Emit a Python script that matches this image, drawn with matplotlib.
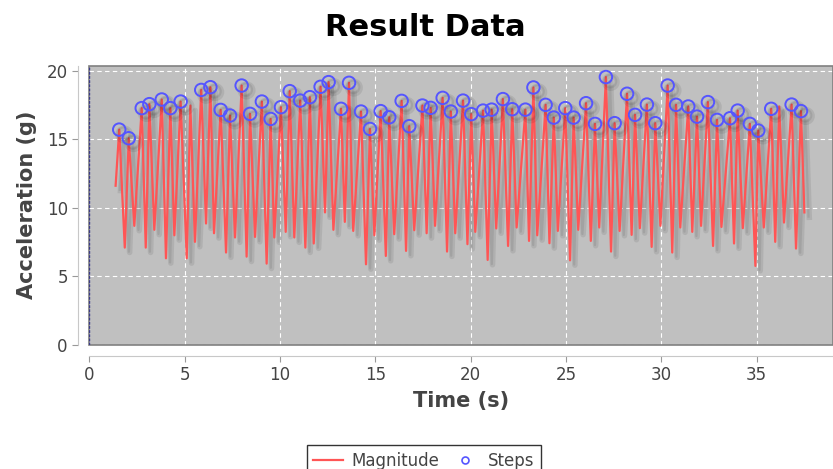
import matplotlib
matplotlib.use('Agg')
import matplotlib.pyplot as plt
import matplotlib.patheffects as pe
from matplotlib.patches import Rectangle
from matplotlib.lines import Line2D

# Magnitude signal (time in s, acceleration in g)
mag_t = [1.38, 1.57, 1.86, 2.07, 2.36, 2.75, 2.96, 3.15, 3.41, 3.80, 4.02, 4.25, 4.46, 4.79,
         5.11, 5.30, 5.54, 5.87, 6.12, 6.35, 6.54, 6.89, 7.17, 7.38, 7.64, 7.99, 8.25, 8.43,
         8.69, 9.05, 9.30, 9.51, 9.70, 10.05, 10.30, 10.51, 10.75, 11.06, 11.33, 11.57, 11.77,
         12.13, 12.36, 12.55, 12.80, 13.20, 13.40, 13.62, 13.84, 14.25, 14.51, 14.72, 14.95,
         15.28, 15.55, 15.73, 15.99, 16.38, 16.61, 16.78, 17.04, 17.47, 17.69, 17.90, 18.13,
         18.53, 18.76, 18.96, 19.19, 19.60, 19.83, 20.03, 20.24, 20.65, 20.89, 21.10, 21.34,
         21.69, 21.96, 22.18, 22.41, 22.87, 23.06, 23.29, 23.49, 23.93, 24.13, 24.36, 24.57,
         24.96, 25.21, 25.40, 25.64, 26.05, 26.30, 26.52, 26.74, 27.09, 27.36, 27.55, 27.81,
         28.20, 28.44, 28.62, 28.87, 29.24, 29.49, 29.68, 29.95, 30.33, 30.57, 30.77, 30.99,
         31.41, 31.62, 31.87, 32.08, 32.44, 32.71, 32.92, 33.15, 33.60, 33.81, 34.00, 34.27,
         34.64, 34.93, 35.08, 35.37, 35.76, 35.97, 36.18, 36.43, 36.83, 37.06, 37.32, 37.50]
mag_v = [11.6, 15.70, 7.08, 15.07, 8.67, 17.27, 7.08, 17.56, 8.38, 17.90, 6.30, 17.27, 7.98, 17.75,
         6.30, 17.46, 7.50, 18.60, 8.84, 18.80, 8.13, 17.14, 6.72, 16.73, 7.82, 18.92, 6.42, 16.85,
         7.86, 17.75, 5.91, 16.48, 7.82, 17.34, 8.23, 18.51, 7.82, 17.82, 7.08, 18.07, 7.38,
         18.83, 9.65, 19.17, 8.38, 17.22, 8.96, 19.12, 8.30, 17.02, 5.86, 15.75, 7.98,
         17.05, 6.47, 16.60, 8.06, 17.80, 6.84, 15.95, 8.35, 17.46, 8.13, 17.29, 8.67,
         18.02, 6.79, 17.02, 8.13, 17.82, 7.33, 16.83, 8.23, 17.09, 6.18, 17.16, 8.48,
         17.93, 7.20, 17.19, 8.55, 17.16, 7.57, 18.78, 7.98, 17.51, 7.40, 16.58, 8.30,
         17.27, 6.15, 16.58, 8.38, 17.63, 7.57, 16.12, 8.55, 19.54, 6.79, 16.17, 8.30,
         18.32, 8.01, 16.78, 8.50, 17.53, 7.13, 16.17, 8.67, 18.92, 6.72, 17.51, 8.55,
         17.39, 8.23, 16.65, 8.67, 17.71, 7.20, 16.41, 8.59, 16.53, 7.38, 17.09, 8.50,
         16.12, 5.74, 15.63, 8.55, 17.22, 7.50, 17.39, 8.91, 17.53, 7.01, 17.05, 9.65]

# Detected steps
step_t = [1.57, 2.07, 2.75, 3.15, 3.80, 4.25, 4.79, 5.87, 6.35, 6.89, 7.38, 7.99, 8.43, 9.05,
          9.51, 10.05, 10.51, 11.06, 11.57, 12.13, 12.55, 13.20, 13.62, 14.25, 14.72, 15.28,
          15.73, 16.38, 16.78, 17.47, 17.90, 18.53, 18.96, 19.60, 20.03, 20.65, 21.10, 21.69,
          22.18, 22.87, 23.29, 23.93, 24.36, 24.96, 25.40, 26.05, 26.52, 27.09, 27.55, 28.20,
          28.62, 29.24, 29.68, 30.33, 30.77, 31.41, 31.87, 32.44, 32.92, 33.60, 34.00, 34.64,
          35.08, 35.76, 36.83, 37.32]
step_v = [15.70, 15.07, 17.27, 17.56, 17.90, 17.27, 17.75, 18.60, 18.80, 17.14, 16.73, 18.92,
          16.85, 17.75, 16.48, 17.34, 18.51, 17.82, 18.07, 18.83, 19.17, 17.22, 19.12, 17.02,
          15.75, 17.05, 16.60, 17.80, 15.95, 17.46, 17.29, 18.02, 17.02, 17.82, 16.83, 17.09,
          17.16, 17.93, 17.19, 17.16, 18.78, 17.51, 16.58, 17.27, 16.58, 17.63, 16.12, 19.54,
          16.17, 18.32, 16.78, 17.53, 16.17, 18.92, 17.51, 17.39, 16.65, 17.71, 16.41, 16.53,
          17.09, 16.12, 15.63, 17.22, 17.53, 17.05]

x_ticks = [0, 5, 10, 15, 20, 25, 30, 35]
y_ticks = [0, 5, 10, 15, 20]

red = '#ff5555'
blue = '#5555ff'

fig = plt.figure(figsize=(8.33, 4.69), dpi=100)
ax = fig.add_axes([89.3 / 833, 1 - 344.5 / 469, 1 - 89.3 / 833, (344.5 - 65.7) / 469])
ax.set_facecolor('#c0c0c0')

# soft drop shadow like JFreeChart
shadow = [pe.SimpleLineShadow(offset=(3.5, -3.5), shadow_color='black', alpha=0.08, linewidth=4),
          pe.SimpleLineShadow(offset=(3, -3), shadow_color='black', alpha=0.08),
          pe.Normal()]
ax.plot(mag_t, mag_v, color=red, lw=1.6, path_effects=shadow, zorder=3)
ax.plot(step_t, step_v, 'o', ms=9, mfc='none', mec=blue, mew=1.4,
        path_effects=shadow, zorder=4)

ax.set_xlim(0, 39.0)
ax.set_ylim(0, 20.37)
ax.set_xticks(x_ticks)
ax.set_yticks(y_ticks)
ax.grid(True, color='white', ls=(0, (4, 3)), lw=0.8)
ax.set_axisbelow(True)

# plot border, axis lines offset outward
ax.add_patch(Rectangle((0, 0), 1, 1, transform=ax.transAxes, fill=False,
                       edgecolor='#808080', lw=1.2, zorder=5, clip_on=False))
ax.axvline(0, color='#3a3a8a', lw=1, ls=(0, (2, 1)), zorder=5)
for side in ['top', 'right']:
    ax.spines[side].set_visible(False)
for side in ['left', 'bottom']:
    ax.spines[side].set_position(('outward', 8))
    ax.spines[side].set_color('#c8c8c8')
ax.tick_params(colors='#999999', labelcolor='#444444', labelsize=12, length=4)

ax.set_xlabel('Time (s)', fontsize=15, fontweight='bold', color='#444444', labelpad=5)
ax.set_ylabel('Acceleration (g)', fontsize=15, fontweight='bold', color='#444444', labelpad=7)
fig.suptitle('Result Data', fontsize=22, fontweight='bold', x=0.51, y=1 - 27 / 469, va='center')

handles = [Line2D([], [], color=red, lw=1.6, label='Magnitude'),
           Line2D([], [], ls='none', marker='o', ms=5, mfc='none', mec=blue, mew=1.2,
                  label='Steps')]
leg = fig.legend(handles=handles, loc='upper center', bbox_to_anchor=(0.509, 1 - 437 / 469),
                 ncol=2, frameon=True, fancybox=False, edgecolor='black', fontsize=12,
                 handlelength=1.8, columnspacing=0.6, handletextpad=0.5, borderpad=0.4,
                 labelcolor='#444444')
leg.get_frame().set_linewidth(1.0)

plt.savefig('out.png', dpi=100)
